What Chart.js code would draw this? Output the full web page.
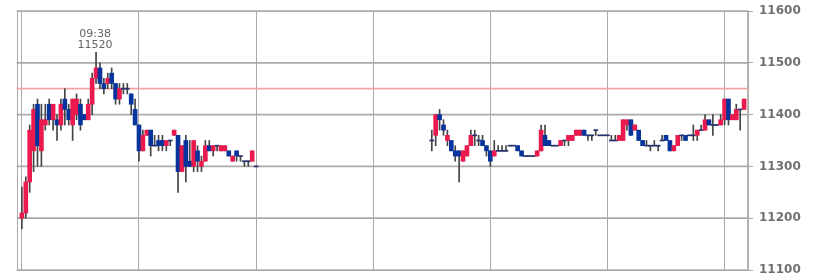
<!DOCTYPE html>
<html>
<head>
<meta charset="utf-8">
<script src="https://cdn.jsdelivr.net/npm/chart.js@4.4.1/dist/chart.umd.min.js"></script>
<style>
html, body { margin: 0; padding: 0; background: #fff; }
</style>
</head>
<body>
<canvas id="priceChart" width="821" height="279"></canvas>
<script>
// 2-minute candles, morning and afternoon sessions
var times = [
  "09:00","09:02","09:04","09:06","09:08","09:10","09:12","09:14","09:16","09:18",
  "09:20","09:22","09:24","09:26","09:28","09:30","09:32","09:34","09:36","09:38",
  "09:40","09:42","09:44","09:46","09:48","09:50","09:52","09:54","09:56","09:58",
  "10:00","10:02","10:04","10:06","10:08","10:10","10:12","10:14","10:16","10:18",
  "10:20","10:22","10:24","10:26","10:28","10:30","10:32","10:34","10:36","10:38",
  "10:40","10:42","10:44","10:46","10:48","10:50","10:52","10:54","10:56","10:58",
  "11:00",
  "12:30","12:32","12:34","12:36","12:38","12:40","12:42","12:44","12:46","12:48",
  "12:50","12:52","12:54","12:56","12:58","13:00","13:02","13:04","13:06","13:08",
  "13:10","13:12","13:14","13:16","13:18","13:20","13:22","13:24","13:26","13:28",
  "13:30","13:32","13:34","13:36","13:38","13:40","13:42","13:44","13:46","13:48",
  "13:50","13:52","13:54","13:56","13:58","14:00","14:02","14:04","14:06","14:08",
  "14:10","14:12","14:14","14:16","14:18","14:20","14:22","14:24","14:26","14:28",
  "14:30","14:32","14:34","14:36","14:38","14:40","14:42","14:44","14:46","14:48",
  "14:50","14:52","14:54","14:56","14:58","15:00","15:02","15:04","15:06","15:08",
  "15:10"
];
var opens = [
  11200,11210,11270,11330,11420,11330,11380,11420,11390,11390,
  11380,11430,11410,11380,11400,11420,11400,11390,11420,11470,
  11490,11460,11460,11480,11460,11430,11450,11450,11440,11410,
  11380,11330,11360,11370,11340,11350,11350,11340,11350,11360,
  11360,11290,11350,11310,11300,11330,11300,11310,11340,11330,
  11340,11330,11330,11330,11310,11330,11320,11310,11310,11310,
  11300,
  11350,11360,11400,11380,11350,11350,11330,11330,11310,11320,
  11340,11360,11350,11350,11340,11330,11320,11330,11330,11330,
  11340,11340,11340,11330,11320,11320,11320,11320,11330,11360,
  11350,11340,11340,11340,11350,11350,11350,11360,11360,11370,
  11360,11360,11370,11360,11360,11360,11350,11350,11350,11350,
  11380,11390,11370,11370,11350,11340,11340,11340,11340,11350,
  11360,11350,11330,11340,11360,11360,11360,11360,11360,11370,
  11370,11390,11380,11380,11380,11390,11430,11390,11390,11410,
  11410
];
var highs = [
  11260,11280,11380,11420,11430,11420,11420,11430,11420,11400,
  11430,11450,11420,11430,11440,11430,11400,11430,11480,11520,
  11500,11470,11480,11490,11460,11460,11460,11460,11440,11430,
  11380,11370,11370,11370,11360,11360,11360,11350,11350,11370,
  11360,11340,11360,11350,11350,11340,11320,11350,11350,11340,
  11340,11340,11340,11330,11320,11330,11320,11310,11310,11330,
  11300,
  11370,11400,11410,11390,11370,11350,11340,11330,11330,11340,
  11370,11370,11360,11360,11340,11330,11350,11340,11340,11340,
  11340,11340,11340,11330,11320,11320,11320,11330,11380,11380,
  11350,11340,11340,11350,11350,11360,11360,11370,11370,11370,
  11360,11360,11370,11360,11360,11360,11360,11360,11360,11390,
  11390,11390,11380,11370,11350,11350,11340,11350,11340,11360,
  11360,11350,11340,11360,11360,11360,11360,11380,11370,11380,
  11400,11390,11400,11380,11400,11430,11430,11400,11420,11410,
  11430
];
var lows = [
  11180,11200,11250,11290,11300,11300,11370,11380,11370,11350,
  11370,11380,11380,11350,11390,11370,11390,11390,11400,11460,
  11450,11440,11450,11450,11420,11420,11440,11440,11400,11380,
  11310,11330,11360,11320,11340,11330,11330,11330,11340,11360,
  11250,11290,11270,11300,11290,11290,11290,11310,11330,11320,
  11330,11330,11330,11320,11310,11310,11310,11300,11300,11310,
  11300,
  11330,11340,11370,11360,11340,11330,11310,11270,11310,11320,
  11340,11340,11340,11340,11320,11300,11320,11330,11330,11330,
  11340,11340,11330,11320,11320,11320,11320,11320,11330,11340,
  11340,11340,11340,11340,11340,11340,11350,11360,11360,11360,
  11350,11350,11360,11360,11360,11360,11350,11350,11350,11350,
  11370,11360,11370,11350,11340,11340,11330,11340,11330,11350,
  11350,11330,11330,11340,11350,11350,11360,11350,11350,11370,
  11370,11380,11360,11380,11380,11380,11380,11390,11390,11370,
  11410
];
var closes = [
  11210,11270,11370,11410,11340,11390,11390,11390,11420,11380,
  11420,11410,11390,11430,11430,11380,11390,11420,11470,11490,
  11460,11450,11470,11460,11430,11450,11450,11450,11420,11380,
  11330,11360,11370,11340,11340,11340,11340,11350,11350,11370,
  11290,11340,11300,11300,11350,11310,11310,11340,11330,11340,
  11340,11340,11340,11320,11320,11320,11320,11310,11310,11330,
  11300,
  11350,11400,11390,11370,11360,11330,11320,11320,11330,11340,
  11360,11360,11350,11340,11330,11310,11330,11330,11330,11330,
  11340,11340,11330,11320,11320,11320,11320,11330,11370,11340,
  11340,11340,11340,11350,11350,11360,11360,11370,11370,11360,
  11360,11360,11370,11360,11360,11360,11350,11350,11360,11390,
  11390,11360,11380,11350,11340,11340,11340,11340,11340,11350,
  11350,11330,11340,11360,11360,11350,11360,11360,11370,11370,
  11390,11380,11380,11380,11390,11430,11390,11400,11410,11410,
  11430
];
var hourLines = ["09:00","10:00","11:00","12:00","13:00","14:00","15:00"];
var priceLevels = [11100, 11200, 11300, 11400, 11500, 11600];
var prevClose = 11450;

var upColor = "#ea1a4e";
var downColor = "#06349c";
var flatColor = "#28336e";
var gridColor = "#ababab";

function toMin(s) {
  var p = s.split(":");
  return (parseInt(p[0], 10) - 9) * 60 + parseInt(p[1], 10);
}

var xMin = -2.5, xMax = 372;
var xMid = (xMin + xMax) / 2;

var wickData = [], bodyData = [], bodyColors = [];
for (var i = 0; i < times.length; i++) {
  var t = toMin(times[i]);
  wickData.push({ x: t, y: [lows[i], highs[i]] });
  if (opens[i] == closes[i]) {
    bodyData.push({ x: t, y: [opens[i] - 1, opens[i] + 1] });
    bodyColors.push(flatColor);
  } else {
    bodyData.push({ x: t, y: [opens[i], closes[i]] });
    bodyColors.push(closes[i] > opens[i] ? upColor : downColor);
  }
}

// price levels and previous close as thin full-width bars
var levelData = priceLevels.map(function (v) { return { x: xMid, y: [v - 1, v + 1] }; });
var prevData = [{ x: xMid, y: [prevClose - 1, prevClose + 1] }];
var axisData = [{ x: xMax, y: [priceLevels[0], priceLevels[priceLevels.length - 1]] }];

// day's high gets a time/price label
var hiIdx = 0;
for (var k = 1; k < highs.length; k++) if (highs[k] > highs[hiIdx]) hiIdx = k;

var peakLabel = {
  id: "peakLabel",
  afterDatasetsDraw: function (chart) {
    var ctx = chart.ctx;
    var x = chart.scales.x.getPixelForValue(toMin(times[hiIdx]));
    var y = chart.scales.y.getPixelForValue(highs[hiIdx]);
    ctx.save();
    ctx.fillStyle = "#666";
    ctx.font = "11px 'DejaVu Sans'";
    ctx.textAlign = "center";
    ctx.fillText(times[hiIdx], x - 1, y - 15);
    ctx.fillText(String(highs[hiIdx]), x - 1, y - 4);
    ctx.restore();
  }
};

var canvasPrice = document.getElementById("priceChart");
var priceChart = new Chart(canvasPrice, {
  type: "bar",
  data: {
    datasets: [
      { data: levelData, backgroundColor: gridColor, barThickness: 731, grouped: false, clip: false, order: 5 },
      { data: axisData, backgroundColor: gridColor, barThickness: 1, grouped: false, clip: false, order: 4 },
      { data: prevData, backgroundColor: "#f3a4a4", barThickness: 731, grouped: false, clip: false, order: 3 },
      { data: wickData, backgroundColor: "#444", barThickness: 1, grouped: false, order: 2 },
      { data: bodyData, backgroundColor: bodyColors, barThickness: 4, grouped: false, order: 1 }
    ]
  },
  options: {
    responsive: false,
    animation: false,
    devicePixelRatio: 1,
    layout: { padding: { left: 17, top: 11, right: 0, bottom: 9 } },
    plugins: { legend: { display: false }, tooltip: { enabled: false } },
    scales: {
      x: {
        type: "linear", min: xMin, max: xMax, offset: false,
        ticks: { display: false },
        grid: { color: gridColor, drawTicks: false, offset: false },
        border: { display: false },
        afterBuildTicks: function (s) {
          s.ticks = [xMin].concat(hourLines.map(toMin)).map(function (v) { return { value: v }; });
        }
      },
      y: {
        position: "right", min: 11100, max: 11600,
        ticks: {
          stepSize: 100, color: "#707070", padding: 6,
          font: { family: "DejaVu Sans", size: 12, weight: "bold", lineHeight: 0.5 },
          callback: function (v) { return String(v); }
        },
        grid: { color: gridColor, drawTicks: true, tickLength: 5 },
        border: { color: gridColor },
        afterFit: function (s) { s.width = 73; }
      }
    }
  },
  plugins: [peakLabel]
});
</script>
</body>
</html>
